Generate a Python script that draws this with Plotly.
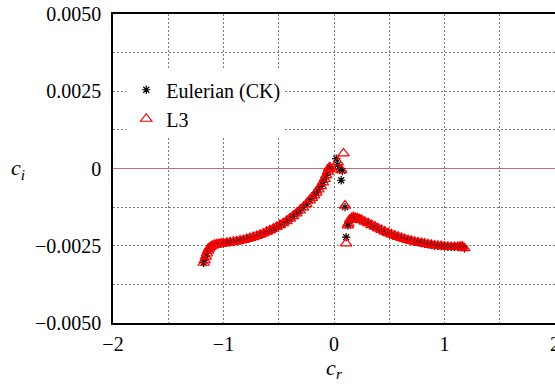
import plotly.graph_objects as go

# Left continuous branch (shared by both methods)
left_cr = [-1.18, -1.17, -1.16, -1.15, -1.14, -1.13, -1.12, -1.10, -1.08, -1.06,
           -1.04, -1.02, -1.00, -0.97, -0.94, -0.91, -0.88, -0.85, -0.82, -0.79,
           -0.76, -0.73, -0.70, -0.67, -0.64, -0.61, -0.58, -0.55, -0.52, -0.49,
           -0.46, -0.43, -0.40, -0.37, -0.34, -0.31, -0.28, -0.25, -0.22, -0.20,
           -0.18, -0.16, -0.14, -0.12, -0.10, -0.085, -0.07, -0.055, -0.045, -0.038]
left_ci = [-0.00305, -0.00297, -0.00285, -0.00275, -0.00266, -0.00259, -0.00254, -0.00250, -0.00247, -0.00245,
           -0.00244, -0.00243, -0.00242, -0.00240, -0.00239, -0.00237, -0.00235, -0.00233, -0.00231, -0.00228,
           -0.00225, -0.00222, -0.00218, -0.00214, -0.00210, -0.00205, -0.00200, -0.00195, -0.00189, -0.00183,
           -0.00177, -0.00170, -0.00162, -0.00154, -0.00145, -0.00136, -0.00126, -0.00115, -0.00103, -0.00095,
           -0.00087, -0.00078, -0.00068, -0.00057, -0.00045, -0.00034, -0.00022, -0.00010, -0.00002, 0.00004]

# Right continuous branch (shared)
right_cr = [0.125, 0.13, 0.145, 0.16, 0.175, 0.19, 0.21, 0.23, 0.25, 0.28, 0.31, 0.34, 0.37,
            0.40, 0.43, 0.46, 0.49, 0.52, 0.55, 0.58, 0.61, 0.64, 0.67, 0.70,
            0.73, 0.76, 0.79, 0.82, 0.85, 0.88, 0.91, 0.94, 0.97, 1.00, 1.03,
            1.06, 1.09, 1.12, 1.14, 1.16, 1.18]
right_ci = [-0.00184, -0.00178, -0.00166, -0.00160, -0.00158, -0.00159, -0.00161, -0.00164, -0.00167, -0.00172,
            -0.00177, -0.00183, -0.00188, -0.00194, -0.00199, -0.00204, -0.00209, -0.00213, -0.00217,
            -0.00221, -0.00225, -0.00228, -0.00231, -0.00234, -0.00237, -0.00239, -0.00241, -0.00243,
            -0.00245, -0.00247, -0.00249, -0.00250, -0.00251, -0.00252, -0.00253, -0.00254, -0.00254,
            -0.00254, -0.00253, -0.00252, -0.00258]

# Isolated modes near c_r = 0
euler_extra_cr = [-0.04, 0.02, 0.034, 0.05, 0.065, 0.075, 0.10, 0.11]
euler_extra_ci = [0.00000, 0.00032, 0.00012, -0.00002, -0.00038, -0.00008, -0.00125, -0.00222]
l3_extra_cr = [-0.04, 0.086, 0.034, 0.065, 0.10, 0.11]
l3_extra_ci = [0.00002, 0.00049, 0.00020, -0.00005, -0.00120, -0.00242]

x_ticks = [-2, -1, 0, 1, 2]
x_ticktext = ["\u22122", "\u22121", "0", "1", "2"]
y_ticks = [-0.005, -0.0025, 0, 0.0025, 0.005]
y_ticktext = ["\u22120.0050", "\u22120.0025", "0", "0.0025", "0.0050"]

FF = "Liberation Serif"
tick_font = dict(family=FF, size=20, color="black")
title_font = dict(family=FF, size=22, color="black")

fig = go.Figure()
fig.add_trace(go.Scatter(
    x=left_cr + euler_extra_cr + right_cr,
    y=left_ci + euler_extra_ci + right_ci,
    mode="markers", name="Eulerian (CK)",
    marker=dict(symbol="asterisk-open", size=7, color="black",
                line=dict(color="black", width=1.2)),
))
fig.add_trace(go.Scatter(
    x=left_cr + l3_extra_cr + right_cr,
    y=left_ci + l3_extra_ci + right_ci,
    mode="markers", name="L3",
    marker=dict(symbol="triangle-up-open", size=10, color="red",
                line=dict(color="red", width=1.2)),
))

grid_color = "#7a7a7a"
grid_dash = "2px,2px"
fig.update_layout(
    template="none",
    width=555, height=384,
    margin=dict(l=113, r=0, t=14, b=61),
    paper_bgcolor="white", plot_bgcolor="white",
    font=dict(family=FF, size=20, color="black"),
    showlegend=True,
    legend=dict(x=0.03, y=0.818, xanchor="left", yanchor="top",
                bgcolor="white", borderwidth=0,
                font=dict(family=FF, size=20, color="black"),
                itemsizing="trace", tracegroupgap=0),
    xaxis=dict(range=[-2, 2], tickvals=x_ticks, ticktext=x_ticktext,
               tickfont=tick_font, ticklabeloverflow="allow",
               showgrid=True, gridcolor=grid_color, griddash=grid_dash, gridwidth=1,
               minor=dict(dtick=0.5, tick0=0, showgrid=True, gridcolor=grid_color,
                          griddash=grid_dash, gridwidth=1, ticks=""),
               zeroline=False, showline=True, linecolor="black", linewidth=1.5,
               mirror=True, ticks="", ticklen=0, ticklabelstandoff=2,
               title=dict(text="<i>c<sub>r</sub></i>", font=title_font, standoff=5)),
    yaxis=dict(range=[-0.005, 0.005], tickvals=y_ticks, ticktext=y_ticktext,
               tickfont=tick_font,
               showgrid=True, gridcolor=grid_color, griddash=grid_dash, gridwidth=1,
               minor=dict(dtick=0.00125, tick0=0, showgrid=True, gridcolor=grid_color,
                          griddash=grid_dash, gridwidth=1, ticks=""),
               zeroline=True, zerolinecolor="#c07070", zerolinewidth=1,
               showline=True, linecolor="black", linewidth=1.5,
               mirror=True, ticks="", ticklen=0, ticklabelstandoff=6),
    annotations=[dict(text="<i>c<sub>i</sub></i>", xref="paper", yref="y",
                      x=-0.215, y=0, xanchor="center", yanchor="middle",
                      showarrow=False, font=title_font)],
)

fig.write_html("out.html")
